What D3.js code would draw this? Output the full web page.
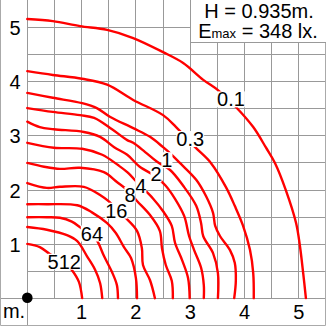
<!DOCTYPE html>
<html>
<head>
<meta charset="utf-8">
<script src="https://cdn.jsdelivr.net/npm/d3@7"></script>
<style>
  body { margin: 0; background: #fff; }
  svg { display: block; }
</style>
</head>
<body>
<div id="chart"></div>
<script>
// isolux levels, outermost first
const levels = [0.1, 0.3, 0.5, 1, 2, 4, 8, 16, 32, 64, 128, 512];

// one list of [x, y] points (metres) per level
const contours = [
  [[0,5.15],[0.47,5.11],[0.97,5.02],[1.47,4.95],[1.95,4.80],[2.50,4.54],[2.87,4.34],[3.24,4.03],[3.51,3.84],[3.84,3.53],[4.16,3.16],[4.39,2.79],[4.56,2.50],[4.76,2.00],[4.95,1.39],[5.02,0.97],[5.08,0.47],[5.13,0.01]],
  [[0,4.19],[0.47,4.12],[1.01,4.05],[1.47,3.94],[1.95,3.66],[2.50,3.38],[2.74,3.16],[3.09,2.79],[3.38,2.50],[3.66,2.05],[3.82,1.71],[3.97,1.35],[4.10,0.90],[4.16,0.47],[4.17,0.01]],
  [[0,3.79],[0.47,3.70],[1.01,3.60],[1.28,3.51],[1.52,3.35],[1.95,3.14],[2.26,2.98],[2.50,2.79],[2.66,2.65],[2.81,2.50],[3.11,2.19],[3.29,1.89],[3.42,1.58],[3.46,1.34],[3.55,1.15],[3.73,0.90],[3.82,0.66],[3.84,0.34],[3.81,0.01]],
  [[0,3.51],[0.47,3.44],[0.97,3.38],[1.23,3.33],[1.56,3.12],[1.84,2.92],[1.95,2.87],[2.17,2.70],[2.39,2.52],[2.63,2.37],[2.87,2.08],[3.11,1.71],[3.20,1.39],[3.24,1.15],[3.42,0.84],[3.51,0.47],[3.51,0.01]],
  [[0,3.26],[0.23,3.16],[0.49,3.12],[1.04,3.07],[1.34,2.98],[1.60,2.79],[1.84,2.65],[2.07,2.43],[2.35,2.26],[2.54,2.09],[2.72,1.84],[2.89,1.52],[2.98,1.15],[3.07,0.90],[3.20,0.57],[3.25,0.25],[3.25,0.01]],
  [[0,2.87],[0.49,2.78],[1.01,2.76],[1.38,2.65],[1.67,2.46],[1.84,2.33],[2.07,2.09],[2.31,1.85],[2.50,1.61],[2.66,1.34],[2.72,1.03],[2.85,0.71],[2.96,0.38],[2.99,0.01]],
  [[0,2.50],[0.31,2.43],[0.60,2.39],[0.97,2.41],[1.41,2.33],[1.65,2.15],[1.84,2.00],[2.02,1.80],[2.26,1.54],[2.44,1.25],[2.48,0.93],[2.55,0.62],[2.66,0.33],[2.68,0.01]],
  [[0,2.13],[0.36,2.04],[0.60,2.06],[1.04,2.06],[1.34,1.91],[1.49,1.80],[1.67,1.63],[1.80,1.50],[2.02,1.25],[2.11,0.93],[2.13,0.62],[2.26,0.34],[2.35,0.01]],
  [[0,1.74],[0.36,1.74],[0.92,1.72],[1.19,1.59],[1.47,1.39],[1.63,1.21],[1.78,0.95],[1.91,0.75],[2.00,0.38],[2.02,0.01]],
  [[0,1.50],[0.36,1.50],[0.60,1.49],[0.82,1.42],[1.01,1.29],[1.19,1.19],[1.30,1.04],[1.41,0.79],[1.56,0.49],[1.65,0.25],[1.67,0.01]],
  [[0,1.32],[0.36,1.27],[0.73,1.17],[0.92,1.06],[1.10,0.78],[1.25,0.53],[1.34,0.29],[1.38,0.01]],
  [[0,1.01],[0.23,0.95],[0.42,0.82],[0.68,0.68],[0.82,0.53],[0.95,0.31],[1.01,0.01]]
];

// labels written on the lines (metres)
const labelText = ["0.1", "0.3", "1", "2", "4", "8", "16", "64", "512"];
const labelX = [3.75, 3.00, 2.57, 2.37, 2.09, 1.89, 1.64, 1.19, 0.68];
const labelY = [3.67, 2.94, 2.55, 2.29, 2.08, 1.91, 1.62, 1.20, 0.68];

const xTicks = [1, 2, 3, 4, 5];
const yTicks = [1, 2, 3, 4, 5];
const mountHeight = 0.935;
const emax = 348;

const width = 326, height = 326;
const font = "'Liberation Sans', Arial, sans-serif";

const x = d3.scaleLinear().domain([0, 5.5]).range([27.3, 326]);
const y = d3.scaleLinear().domain([0, 5.5]).range([298.7, 0]);
const px = v => Math.floor(x(v)) + 0.5;
const py = v => Math.floor(y(v)) + 0.5;

const svg = d3.select("#chart").append("svg")
    .attr("width", width)
    .attr("height", height);

svg.append("rect").attr("width", width).attr("height", height).attr("fill", "#fff");

// grid, every half metre
const steps = d3.range(0, 5.51, 0.5);
const grid = svg.append("g").attr("stroke", "#999").attr("stroke-width", 1);
grid.selectAll(".v")
  .data(steps.filter(d => d < 5.5))
  .join("line")
    .attr("class", "v")
    .attr("x1", d => px(d)).attr("x2", d => px(d))
    .attr("y1", 0)
    .attr("y2", d => d == 0 ? height : py(0));
grid.selectAll(".h")
  .data(steps.filter(d => d < 5.5))
  .join("line")
    .attr("class", "h")
    .attr("y1", d => py(d)).attr("y2", d => py(d))
    .attr("x1", d => d == 0 ? 0 : px(0))
    .attr("x2", width);

// frame (left, right, bottom)
svg.append("path")
    .attr("d", `M0.5,0V${height - 0.5}H${width - 0.5}V0`)
    .attr("fill", "none")
    .attr("stroke", "#aaa");

// isolux lines
const line = d3.line()
    .x(d => x(d[0]))
    .y(d => y(d[1]))
    .curve(d3.curveCatmullRom.alpha(0.5));

svg.append("g")
  .selectAll("path")
  .data(contours)
  .join("path")
    .attr("d", line)
    .attr("fill", "none")
    .attr("stroke", "#ff0000")
    .attr("stroke-width", 2.4)
    .attr("stroke-linejoin", "round")
    .attr("stroke-linecap", "round");

// line labels, on a white patch
const lab = svg.append("g")
  .selectAll("g")
  .data(labelText)
  .join("g");
lab.append("text")
    .attr("x", (d, i) => x(labelX[i]))
    .attr("y", (d, i) => y(labelY[i]) + 7)
    .attr("text-anchor", "middle")
    .attr("font-family", font)
    .attr("font-size", 20)
    .attr("fill", "#000")
    .text(d => d);
lab.each(function() {
  const t = d3.select(this).select("text");
  const b = t.node().getBBox();
  const base = +t.attr("y");
  d3.select(this).insert("rect", "text")
      .attr("x", b.x)
      .attr("y", base - 15)
      .attr("width", b.width)
      .attr("height", 16)
      .attr("fill", "#fff");
});

// origin dot
svg.append("circle")
    .attr("cx", x(0))
    .attr("cy", y(0) - 1)
    .attr("r", 5.3)
    .attr("fill", "#000");

// tick labels
svg.append("g")
  .selectAll("text")
  .data(yTicks)
  .join("text")
    .attr("x", 15)
    .attr("y", d => y(d) + 7.5)
    .attr("text-anchor", "middle")
    .attr("font-family", font)
    .attr("font-size", 20)
    .text(d => d);
svg.append("g")
  .selectAll("text")
  .data(xTicks)
  .join("text")
    .attr("x", d => x(d))
    .attr("y", 319)
    .attr("text-anchor", "middle")
    .attr("font-family", font)
    .attr("font-size", 20)
    .text(d => d);
svg.append("text")
    .attr("x", 14)
    .attr("y", 318)
    .attr("text-anchor", "middle")
    .attr("font-family", font)
    .attr("font-size", 20)
    .text("m.");

// info box
svg.append("rect")
    .attr("x", px(3))
    .attr("y", -1)
    .attr("width", width - px(3) + 2)
    .attr("height", 43.5)
    .attr("fill", "#fff")
    .attr("stroke", "#999");
svg.append("text")
    .attr("x", 259)
    .attr("y", 18)
    .attr("text-anchor", "middle")
    .attr("font-family", font)
    .attr("font-size", 20)
    .text(`H = ${mountHeight}m.`);
const em = svg.append("text")
    .attr("x", 258)
    .attr("y", 38)
    .attr("text-anchor", "middle")
    .attr("font-family", font)
    .attr("font-size", 20);
em.append("tspan").text("E");
em.append("tspan").attr("font-size", 13).text("max");
em.append("tspan").text(` = ${emax} lx.`);
</script>
</body>
</html>
